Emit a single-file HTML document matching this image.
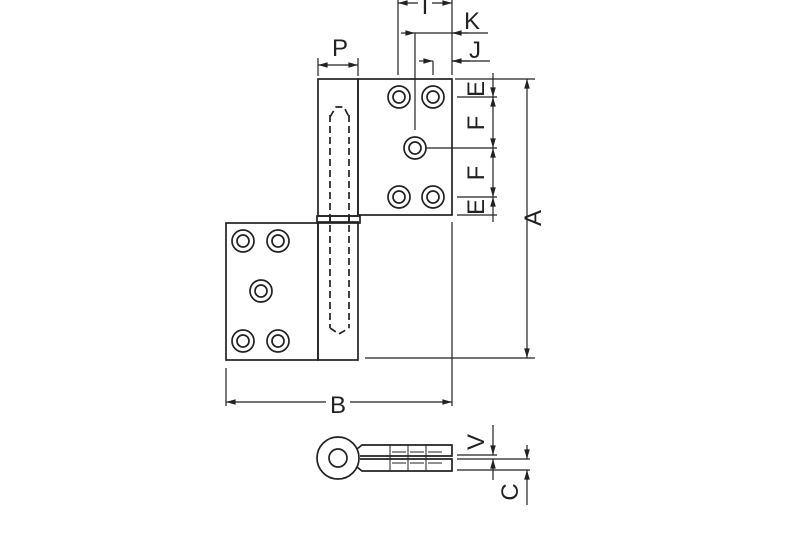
<!DOCTYPE html><html><head><style>body{margin:0;background:#fff}svg{display:block}</style></head><body>
<svg width="800" height="533" viewBox="0 0 800 533" xmlns="http://www.w3.org/2000/svg" font-family="Liberation Sans, sans-serif">
<defs><marker id="a" viewBox="0 0 12 10" refX="12" refY="5" markerWidth="10" markerHeight="8" orient="auto-start-reverse" markerUnits="userSpaceOnUse"><path d="M0,1.5L12,5L0,8.5z" fill="#222"/></marker></defs>
<g stroke="#222" stroke-width="1.7" fill="none">
<rect x="318" y="79" width="40" height="137"/>
<rect x="358" y="79" width="94" height="136"/>
<rect x="226" y="223" width="92" height="137"/>
<rect x="318" y="222" width="40" height="138"/>
<rect x="317" y="216" width="43" height="7"/>
<line x1="330" y1="216" x2="330" y2="223"/><line x1="349" y1="216" x2="349" y2="223"/>
<g stroke-dasharray="7,4"><line x1="330" y1="115" x2="330" y2="328"/><line x1="349" y1="115" x2="349" y2="328"/>
<path d="M330,117 L336,107 L344,107 L349,117 M330,328 L339,334 L349,328"/></g>
<g>
<circle cx="399" cy="97" r="11"/><circle cx="399" cy="97" r="6"/>
<circle cx="433" cy="97" r="11"/><circle cx="433" cy="97" r="6"/>
<circle cx="415" cy="148" r="11"/><circle cx="415" cy="148" r="6"/>
<circle cx="399" cy="197" r="11"/><circle cx="399" cy="197" r="6"/>
<circle cx="433" cy="197" r="11"/><circle cx="433" cy="197" r="6"/>
<circle cx="243" cy="241" r="11"/><circle cx="243" cy="241" r="6"/>
<circle cx="278" cy="241" r="11"/><circle cx="278" cy="241" r="6"/>
<circle cx="261" cy="291" r="11"/><circle cx="261" cy="291" r="6"/>
<circle cx="243" cy="341" r="11"/><circle cx="243" cy="341" r="6"/>
<circle cx="278" cy="341" r="11"/><circle cx="278" cy="341" r="6"/>
</g>
</g>
<g stroke="#222" stroke-width="1.2" fill="none">
<line x1="455" y1="79" x2="535" y2="79"/><line x1="365" y1="358" x2="535" y2="358"/>
<line x1="527" y1="79" x2="527" y2="358" marker-start="url(#a)" marker-end="url(#a)"/>
<line x1="457" y1="97" x2="497" y2="97"/><line x1="425" y1="148" x2="497" y2="148"/>
<line x1="457" y1="197" x2="497" y2="197"/><line x1="457" y1="215" x2="497" y2="215"/>
<line x1="493" y1="73" x2="493" y2="97" marker-end="url(#a)"/>
<line x1="493" y1="97" x2="493" y2="148" marker-start="url(#a)" marker-end="url(#a)"/>
<line x1="493" y1="148" x2="493" y2="197" marker-start="url(#a)" marker-end="url(#a)"/>
<line x1="493" y1="197" x2="493" y2="222" marker-start="url(#a)"/>
<line x1="226" y1="368" x2="226" y2="406"/><line x1="452" y1="222" x2="452" y2="406"/>
<line x1="226" y1="402" x2="326" y2="402" marker-start="url(#a)"/><line x1="350" y1="402" x2="452" y2="402" marker-end="url(#a)"/>
<line x1="318" y1="58" x2="318" y2="76"/><line x1="358" y1="58" x2="358" y2="76"/>
<line x1="318" y1="65" x2="358" y2="65" marker-start="url(#a)" marker-end="url(#a)"/>
<line x1="398" y1="0" x2="398" y2="75"/><line x1="452" y1="0" x2="452" y2="75"/>
<line x1="398" y1="3" x2="418" y2="3" marker-start="url(#a)"/><line x1="432" y1="3" x2="452" y2="3" marker-end="url(#a)"/>
<line x1="415" y1="33" x2="415" y2="130"/>
<line x1="401" y1="33" x2="415" y2="33" marker-end="url(#a)"/>
<line x1="415" y1="33" x2="488" y2="33"/>
<line x1="468" y1="33" x2="452" y2="33" marker-end="url(#a)"/>
<line x1="433" y1="61" x2="433" y2="75"/>
<line x1="419" y1="61" x2="433" y2="61" marker-end="url(#a)"/>
<line x1="452" y1="61" x2="490" y2="61"/>
<line x1="470" y1="61" x2="452" y2="61" marker-end="url(#a)"/>
<circle cx="338" cy="458" r="21" stroke-width="1.7"/><circle cx="338" cy="458" r="9" stroke-width="1.7"/>
<path d="M357,449 L362,445 L452,445 L452,456 L360,456 M357,467 L362,471 L452,471 L452,459 L360,459" stroke-width="1.7"/>
<path d="M390,445v26 M408,445v26 M426,445v26 M392,452h14 M410,452h14 M428,452h14 M392,463h14 M410,463h14 M428,463h14" stroke-width="1"/>
<line x1="457" y1="455" x2="497" y2="455"/><line x1="457" y1="459" x2="530" y2="459"/><line x1="457" y1="470" x2="530" y2="470"/>
<line x1="493" y1="425" x2="493" y2="455" marker-end="url(#a)"/>
<line x1="493" y1="480" x2="493" y2="459" marker-end="url(#a)"/>
<line x1="527" y1="445" x2="527" y2="459" marker-end="url(#a)"/>
<line x1="527" y1="505" x2="527" y2="470" marker-end="url(#a)"/>
</g>
<g fill="#222" font-size="24" text-anchor="middle">
<text x="340" y="56">P</text>
<text x="425" y="14">I</text>
<text x="472" y="29">K</text>
<text x="475" y="58">J</text>
<text x="338" y="413">B</text>
<text transform="translate(541,218) rotate(-90)">A</text>
<text transform="translate(484,89) rotate(-90)">E</text>
<text transform="translate(484,123) rotate(-90)">F</text>
<text transform="translate(484,173) rotate(-90)">F</text>
<text transform="translate(484,207) rotate(-90)">E</text>
<text transform="translate(484,442) rotate(-90)">V</text>
<text transform="translate(518,492) rotate(-90)">C</text>
</g>
</svg></body></html>
